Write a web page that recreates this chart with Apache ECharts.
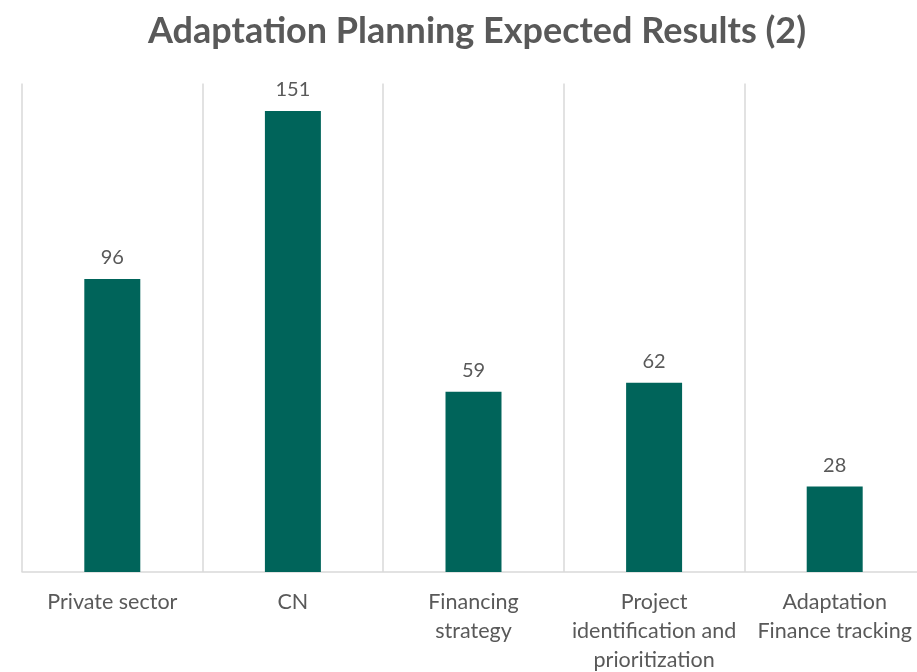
<!DOCTYPE html>
<html>
<head>
<meta charset="utf-8">
<script src="https://cdn.jsdelivr.net/npm/echarts@6/dist/echarts.min.js"></script>
<style>
html,body{margin:0;padding:0;background:#fff;}
#main{width:917px;height:672px;}
</style>
</head>
<body>
<div id="main"></div>
<script>
var categories = ['Private sector', 'CN', 'Financing\nstrategy', 'Project\nidentification and\nprioritization', 'Adaptation\nFinance tracking'];
var values = [96, 151, 59, 62, 28];

var myChart = echarts.init(document.getElementById('main'));
var option = {
    animation: false,
    title: {
        text: 'Adaptation Planning Expected Results (2)',
        left: 143,
        top: 8,
        textStyle: {
            fontFamily: 'Lato',
            fontSize: 36,
            fontWeight: 'bold',
            color: '#595959'
        }
    },
    grid: {
        left: 22,
        right: -8,
        top: 83.5,
        bottom: 100,
        containLabel: false,
        outerBoundsMode: 'none'
    },
    xAxis: {
        type: 'category',
        data: categories,
        axisLine: {lineStyle: {color: '#d9d9d9', width: 1.5}},
        axisTick: {show: false},
        splitLine: {show: true, interval: 0, lineStyle: {color: '#d9d9d9', width: 1.5}},
        axisLabel: {
            interval: 0,
            margin: 16,
            fontFamily: 'Lato',
            fontSize: 21.5,
            lineHeight: 29,
            color: '#595959'
        }
    },
    yAxis: {
        type: 'value',
        min: 0,
        max: 160,
        interval: 20,
        show: false,
        splitLine: {show: false}
    },
    series: [
        {
            type: 'bar',
            data: values,
            barWidth: '31%',
            itemStyle: {color: '#00645a'},
            label: {
                show: true,
                position: 'top',
                distance: 11,
                fontFamily: 'Lato',
                fontSize: 20,
                color: '#595959'
            }
        }
    ]
};
myChart.setOption(option);
</script>
</body>
</html>
